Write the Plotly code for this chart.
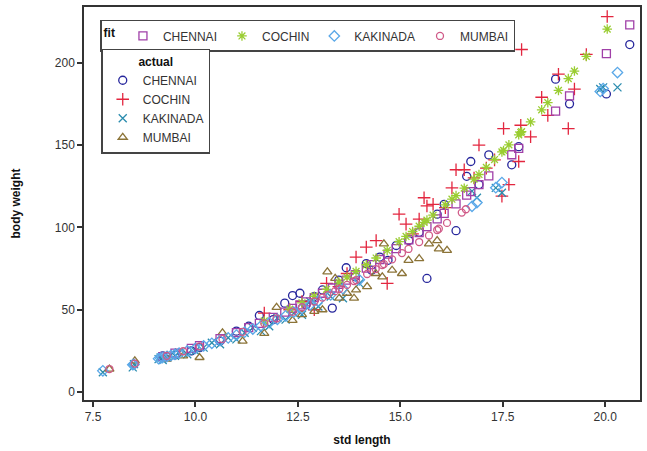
import plotly.graph_objects as go

# ---------------- data ----------------
chennai_x = [9.2, 9.5, 9.9, 10.1, 10.6, 11.0, 11.3, 11.56, 11.9, 12.18,
             12.37, 12.55, 12.7, 12.9, 13.1, 13.34, 13.5, 13.68, 13.9, 14.17,
             14.3, 14.5, 14.7, 14.9, 15.21, 15.46, 15.65, 15.9, 16.07, 16.36,
             16.62, 16.72, 16.92, 17.16, 17.72, 17.89, 18.79, 19.13, 20.03, 20.6]
chennai_actual = [22, 22.5, 25, 27, 31, 37, 40, 46.5, 44, 54,
                  58.6, 60, 53, 58, 62, 51, 68, 75.5, 70, 78,
                  74, 82, 80, 89, 92, 97, 69, 108, 114, 98,
                  131, 140, 126, 144, 138, 149, 190, 175, 181, 211]
chennai_fit = [21.5, 23.6, 26.6, 28.2, 32.5, 36.1, 39.1, 41.7, 45.4, 48.6,
               50.8, 53.0, 54.8, 57.4, 60.0, 63.2, 65.4, 68.0, 71.3, 75.3,
               77.4, 80.5, 83.8, 87.1, 92.5, 96.9, 100.4, 105.2, 108.5, 114.3,
               119.6, 121.7, 126.0, 131.3, 144.1, 148.0, 170.6, 179.8, 205.5, 223.0]

cochin_x = [11.68, 12.3, 12.6, 12.9, 13.2, 13.5, 13.7, 13.92, 14.17, 14.41,
            14.68, 14.97, 15.14, 15.3, 15.46, 15.58, 15.65, 15.8, 16.1, 16.26,
            16.36, 16.56, 16.8, 16.92, 17.1, 17.3, 17.48, 17.52, 17.65, 17.89,
            17.94, 17.96, 18.18, 18.45, 18.6, 18.86, 19.1, 19.25, 19.54, 20.05]
cochin_actual = [48, 50, 55, 50, 66, 64, 72, 82, 88, 92,
                 66, 108, 102, 96, 105, 118, 113, 114, 112, 124,
                 135, 135, 130, 150, 136, 141, 119, 160, 126, 140,
                 162, 208, 155, 179, 168, 193, 160, 184, 205, 228]
cochin_fit = [43.2, 50.4, 54.2, 58.2, 62.4, 66.8, 69.8, 73.3, 77.3, 81.4,
              86.0, 91.3, 94.5, 97.5, 100.7, 103.0, 104.4, 107.4, 113.7, 117.1,
              119.3, 123.8, 129.3, 132.1, 136.4, 141.2, 145.8, 146.7, 150.1, 156.2,
              157.6, 158.1, 164.0, 171.4, 175.7, 183.2, 190.3, 194.9, 203.8, 220.4]

kakinada_x = [7.74, 8.47, 8.5, 9.1, 9.15, 9.2, 9.3, 9.4, 9.5, 9.6,
              9.8, 10.0, 10.2, 10.4, 10.6, 10.8, 11.0, 11.2, 11.4, 11.6,
              11.8, 12.0, 12.2, 12.4, 12.6, 12.8, 13.0, 13.3, 13.6, 14.0,
              16.75, 16.87, 17.33, 17.48, 19.88, 19.95, 20.3]
kakinada_actual = [12, 15, 17, 20, 21, 19.5, 21, 22.5, 22, 24,
                   23, 25, 27, 30, 29, 33, 32, 36, 39, 37,
                   40, 45, 44, 48, 47, 55, 52, 58, 57, 66,
                   122, 118, 124, 121, 184, 185, 185]
kakinada_fit = [12.9, 16.6, 16.8, 20.3, 20.6, 21.0, 21.6, 22.2, 22.9, 23.6,
                25.0, 26.5, 28.0, 29.6, 31.2, 32.9, 34.6, 36.4, 38.3, 40.2,
                42.1, 44.2, 46.3, 48.5, 50.7, 53.0, 55.4, 59.0, 62.8, 68.2,
                112.8, 115.1, 124.1, 127.2, 182.5, 184.3, 194.0]

mumbai_x = [7.9, 8.52, 9.3, 9.7, 10.1, 10.66, 11.15, 11.68, 11.98, 12.37,
            12.6, 12.9, 13.1, 13.22, 13.41, 13.51, 13.7, 13.87, 13.92, 14.19,
            14.4, 14.56, 14.6, 14.8, 15.04, 15.2, 15.46, 15.7, 15.9, 15.94, 16.14]
mumbai_actual = [14, 19, 20, 22, 21, 36, 31, 35.6, 51.4, 43.5,
                 47, 49, 50, 73, 69, 57, 60, 57, 62, 64,
                 72, 70, 90, 74, 72, 80, 81, 90, 92, 87, 86]
mumbai_fit_x = [7.9, 8.52, 9.3, 9.7, 10.1, 10.66, 11.15, 11.68, 11.98, 12.37,
                12.6, 12.9, 13.1, 13.22, 13.41, 13.51, 13.7, 13.87, 13.92, 14.19,
                14.4, 14.56, 14.6, 14.8, 15.04, 15.2, 15.46, 15.7, 15.9, 15.94, 16.14,
                16.5, 16.6]
mumbai_fit = [14.0, 17.3, 22.0, 24.8, 27.8, 32.3, 36.6, 41.7, 44.7, 48.8,
              51.5, 55.0, 57.4, 58.9, 61.3, 62.6, 65.1, 67.4, 68.0, 71.7,
              74.7, 77.1, 77.7, 80.6, 84.4, 86.9, 91.1, 95.1, 98.4, 99.2, 102.7,
              109.0, 111.0]

x_ticks = [7.5, 10.0, 12.5, 15.0, 17.5, 20.0]
x_tick_labels = ["7.5", "10.0", "12.5", "15.0", "17.5", "20.0"]
y_ticks = [0, 50, 100, 150, 200]

# ---------------- figure ----------------
FONT = "Arial, Liberation Sans, Helvetica, sans-serif"
fig = go.Figure()

actual = [
    ("CHENNAI", chennai_x, chennai_actual, "circle-open", "#26269C", 8),
    ("COCHIN", cochin_x, cochin_actual, "cross-thin-open", "#E3263F", 9),
    ("KAKINADA", kakinada_x, kakinada_actual, "x-thin-open", "#2A8CAE", 8),
    ("MUMBAI", mumbai_x, mumbai_actual, "triangle-up-open", "#8C7438", 8),
]
fit = [
    ("CHENNAI", chennai_x, chennai_fit, "square-open", "#A040A8", 8),
    ("COCHIN", cochin_x, cochin_fit, "asterisk-open", "#9ACD32", 8),
    ("KAKINADA", kakinada_x, kakinada_fit, "diamond-open", "#5AA8E8", 8),
    ("MUMBAI", mumbai_fit_x, mumbai_fit, "circle-open", "#D05A88", 7),
]

for name, xs, ys, sym, col, sz in actual:
    fig.add_trace(go.Scatter(
        x=xs, y=ys, mode="markers", name=name, legend="legend2",
        marker=dict(symbol=sym, size=sz, color=col, line=dict(color=col, width=1.3)),
    ))
for name, xs, ys, sym, col, sz in fit:
    fig.add_trace(go.Scatter(
        x=xs, y=ys, mode="markers", name=name, legend="legend",
        marker=dict(symbol=sym, size=sz, color=col, line=dict(color=col, width=1.3)),
    ))

fig.update_layout(
    width=647, height=451,
    margin=dict(l=84, r=5, t=5, b=51),
    plot_bgcolor="white", paper_bgcolor="white",
    font=dict(family=FONT, size=12, color="#333333"),
    showlegend=True,
    legend=dict(
        orientation="h", x=0.029, y=0.967, xanchor="left", yanchor="top",
        bordercolor="#444444", borderwidth=1.5, bgcolor="white",
        title=dict(text="<b>fit</b>", side="left", font=dict(size=12, color="#111111")),
        font=dict(size=12, color="#333333"),
        itemwidth=30, tracegroupgap=0,
    ),
    legend2=dict(
        orientation="v", x=0.031, y=0.894, xanchor="left", yanchor="top",
        bordercolor="#444444", borderwidth=1.5, bgcolor="white",
        title=dict(text="<b>actual</b>", side="top center", font=dict(size=12, color="#111111")),
        font=dict(size=12, color="#333333"),
        itemwidth=30, tracegroupgap=0,
    ),
    xaxis=dict(
        range=[7.28, 20.85], tickvals=x_ticks, ticktext=x_tick_labels,
        showgrid=False, zeroline=False,
        showline=True, linecolor="#333333", linewidth=1.5, mirror=True,
        ticks="outside", ticklen=5, tickcolor="#333333", tickwidth=1.5,
        tickfont=dict(size=12, color="#333333"),
        title=dict(text="<b>std length</b>", font=dict(size=12, color="#111111"), standoff=12),
    ),
    yaxis=dict(
        range=[-4.8, 233.8], tickvals=y_ticks,
        showgrid=False, zeroline=False,
        showline=True, linecolor="#333333", linewidth=1.5, mirror=True,
        ticks="outside", ticklen=5, tickcolor="#333333", tickwidth=1.5,
        tickfont=dict(size=12, color="#333333"),
        title=dict(text="<b>body weight</b>", font=dict(size=12, color="#111111"), standoff=32),
    ),
)

fig.write_html("out.html", config={"displayModeBar": False},
               post_script="document.body.style.margin='0px';")
